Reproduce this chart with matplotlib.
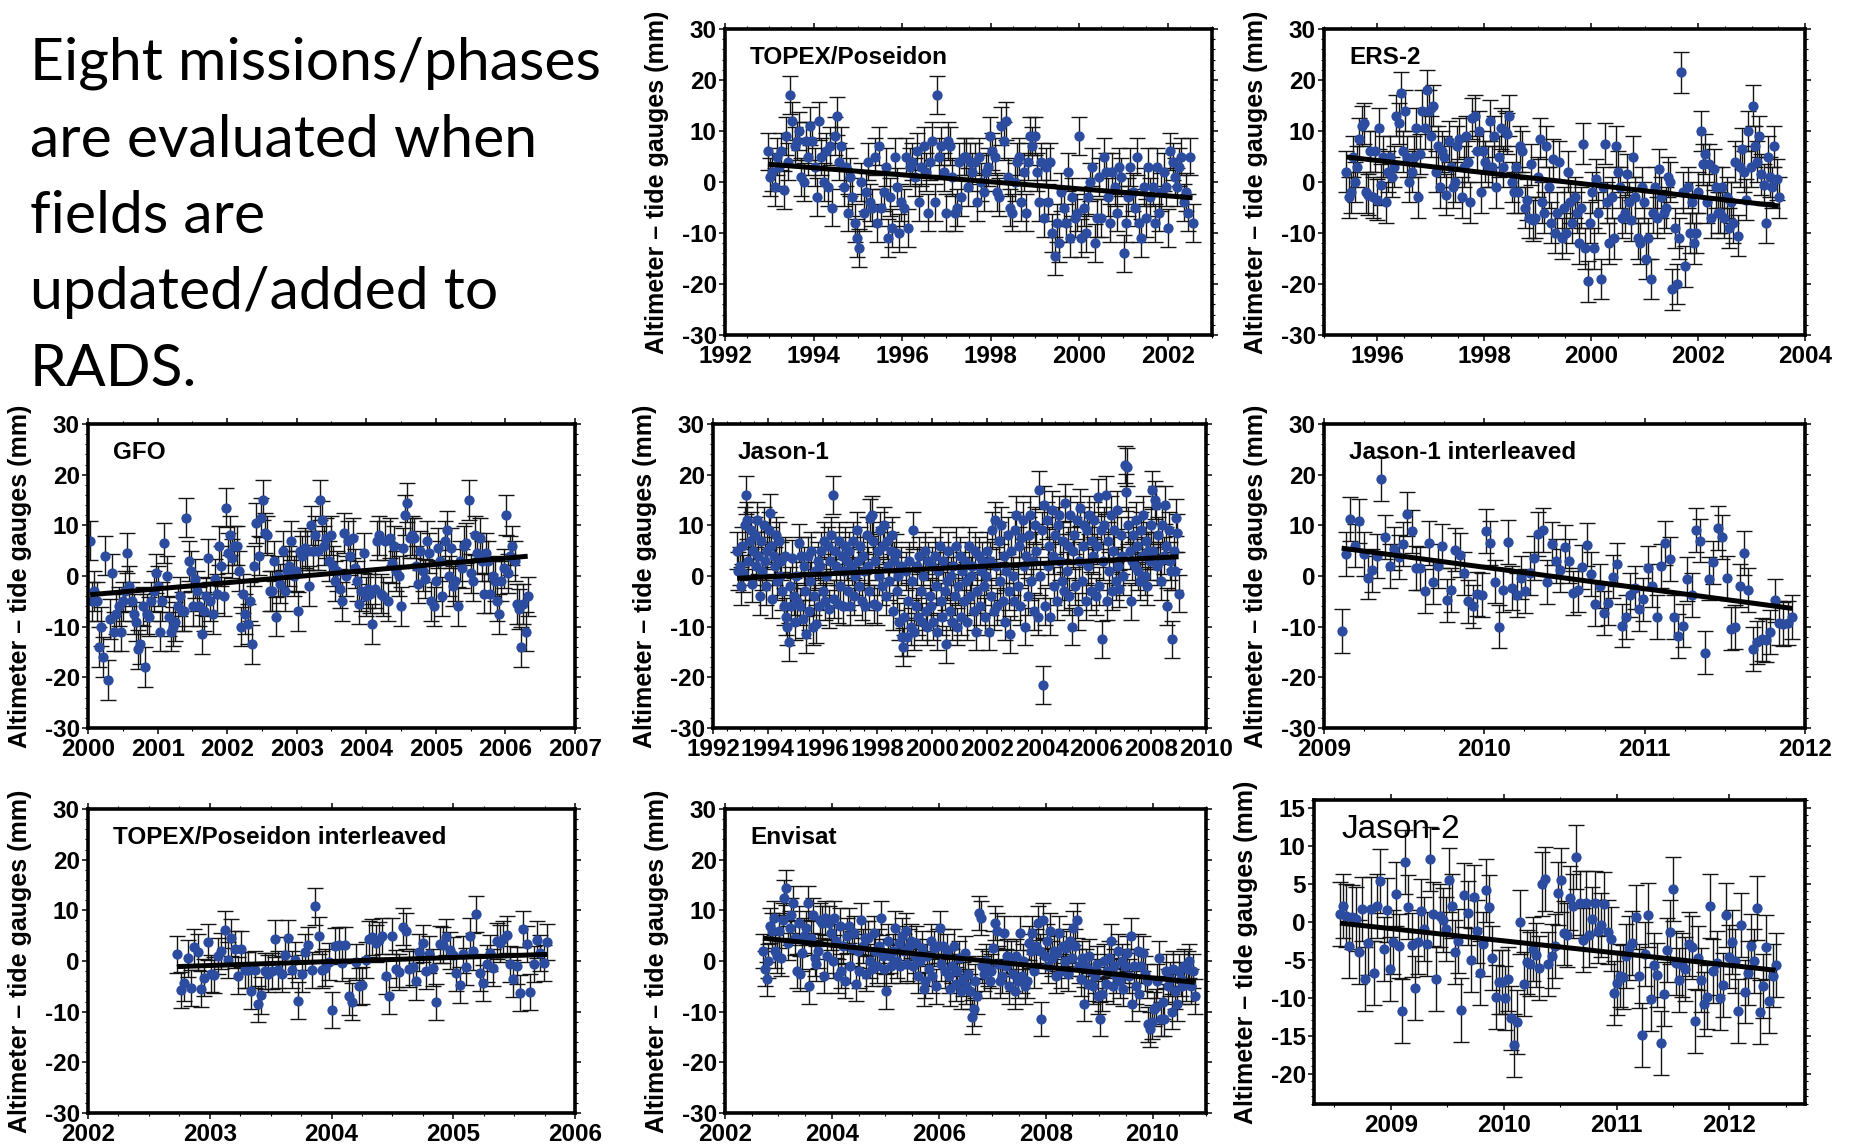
import numpy as np
import matplotlib
matplotlib.use("Agg")
import matplotlib.pyplot as plt
from matplotlib.ticker import MultipleLocator, FixedLocator

plt.rcParams['axes.unicode_minus'] = False
plt.rcParams['font.family'] = ['Liberation Sans', 'DejaVu Sans']
plt.rcParams['font.weight'] = 'bold'

# ---------------- data ----------------
topex_span = [1992.97, 2002.56]
topex_y = [6, 1, 2, -1, 5, 3, 6, -1.5, 9, 4,
           17, 12, 7, 8, 10, 1, 0, 8, 5, 11,
           8, 3, -3, 12, 5, 0, 6, -1, 7, -5,
           9, 13, 4, 7, -1, 3, -6, 1, -3, -8,
           -11, -13, 0, -6, -2, 4, -4, -5, 5, -8,
           7, -5, -2, 3, -11, -3, -9, 5, -1, -10,
           -4, -5, 5, -9, 3, 4, 1, 6, -4, 3,
           7, 2, -6, 4, 8, -4, 17, 5, 7, 2,
           -6, 8, 7, 1, -6, -5, 4, -3, 5, 5,
           -1, 4, 2, 4, -4, 5, 0, -2, 2, 3,
           9, 6, 5, -2, -3, 11, 8, 12, 1, -5,
           -6, 0, 4, 5, -4, 2, -6, 4, 9, 7,
           9, 2, -4, 4, -7, 3, -4, 4, -10, -14.5,
           -8, -12, -2, -5, -8, 2, -11, -3, -7, -6,
           9, -11, -5, -10, -3, 0, 3, -12, -7, 1,
           -7, 5, 2, -3, -8, 2, -1, -6, 3, 1,
           -14, -8, -3, 3, -2, -5, 5, -8, -11, -1,
           -7, 3, -3, -1, -8, 3, -6, -2, 2, -1,
           -9, 6, 4, 1, -1, 3, 5, -4, -2, -6, 5, -8]
topex_err = 3.7
topex_trend = [3.5, -3.1]

ers2_span = [1995.42, 2003.51]
ers2_y = [2, -3, -2, 5, 0, 3, 8.5, 11, 11.5, -2, -2.5, 6, -3, 6, -3.5, 10.5, -0.5, 5, -4, 2,
          5, 1, 3, 13, 11.5, 17.5, 6, 14, 5, 0, 2, 5, 10.5, -3, 5.5, 14, 10.5, 18, 14, 9,
          15, 2, 7, -1, 6, 5, -2.5, 8, 3, -1, 0, 7, 8.5, -3, 3, 9, 4, -4, 12.5, 13,
          6, 10, -2, 6, 4, 3, 12, 3, 9, -1, 5, 10.5, 3, 10, 9.5, 13, 0, -2, 3, -2,
          7, 6, -5, -3.5, -7, 3.5, -7.5, -7, 1, 8.5, -4, -6, 7, -1, -8, 4.5, -10, -6, 4, -11,
          -5, -10, 2, -4, -8, -3, -6, -12, -5, 7.5, -13, -19.5, -8, -2, -13, 0.5, -6, -19, -1, 7.5,
          -4, -12, -3, -11, 7, 2, -1, -7, -6, 1.5, -4, -7.5, 5, -3, -11, -12, -1, -4, -15, -11,
          -19, -6, -1, -7, 2.5, -3, -6, -5, 1, 0, -21, -9, -20, -11, 21.5, -2, -16.5, -1, -10, -4,
          -12, -10, -2, 10, 3.5, 5.5, -4, 3.5, -7, 2.5, -1, -6, -6, -1, -7, -3, -9, -4, -8, 4,
          -10.5, 3, 6.5, 2, -3.5, 10, 3, 15, 7, 4, 9, 1.5, -0.5, -8, 5, 1, -1, 7, 0.5, -3]
ers2_err = 4.0
ers2_trend = [4.9, -4.7]

gfo_span = [2000.03, 2006.32]
gfo_y = [7, -5, -3, -5, -14, -10, -16, 4, -20.5, -8.5, 0.5, -11, -7.5, -6, -11, -5, -3, 4.5, -2, -5,
         -7.5, -9, -14.5, -13.5, -6, -18, -7.5, -8, -5, -3, 0.5, -2, -11, -5, 6.5, 0, -8, -11,
         -10, -9, -6, -4, -7, -7, 11.5, 3, 1, -6, -0.5, -3, -6, -11.5, -7, -4, 3.5, -5,
         -7.5, -0.5, -3.5, 6, 2, -4, 13.5, 4.5, 8, 3.5, 6, 6, 1, -10, -3.5, -7.5, -9.5,
         -5, -13.5, 2, 10.5, 4, 11.5, 15, 8.5, 8, -3, -3, 3, -8, 0, -1.5,
         5, -3, 1, 2, 7, 0, 1, -7, 5, 4, 5.5, 5, -2, 10, 5, 8,
         5, 15, 11, 6, 7.5, 3, 8, 2, -1, 1, -2.5, -5, 8.5,
         0, 7, 4, 7.5, 1.5, -1, -5.5, -3, 4.5, -4, -2.5, -3.5, -9.5, -2.5,
         7, 8, -3.5, -4, 7, -5, 7.5, 2.5, 6, 1, 0, -6, 5.5, 12,
         14.5, 7.5, 8, 7.5, 2, -1.5, 5, 1, -0.5, 7, 4.5, -5, -6, -1, 5.5, 3,
         -4, 7, 9, 0, 5.5, -2, -1, -6, 3, 1.5, 6, 6.5, 15, 0.5, -1,
         8, 4.5, 7.5, 3, -3.5, 4.5, 3, -3.5, 0, -1, -5, -7.5, -1, 1.5, 12,
         0.5, 4, 6, 3, -5.5, -6.5, -14, -5.5, -11, -4]
gfo_err = 3.9
gfo_trend = [-3.7, 3.9]

jason1_span = [1992.88, 2009.0]
jason1_y = [5, 1, 2, -2, 6, 0.5, 10, 16, 11, 3, 7, 9, -1.5, 5, 8, 2, 11, 4, -4, 7, 1, 10,
            3, -2, 5, 9, 12.5, 6, -4.5, 4, 2, 8, -1, 7, 0, 3, -3, -6, 4, -8, -10, -13, -2, -6,
            3.5, -4, -9, 0, -5, 6.5, -6, 4, -8.5, 2, -3, -11.5, 4, -7, -1, 5, -10, -4, 1, -9.5, 3, -6,
            2, 5, -3, 7, -5, 0, 6, -6.5, 3, 8, 16, -4.5, 5, 2, -5.5, 7, -2, 4, -6, 1, 6, 3,
            -3, 5, -6, 2, 7, -4, 0, 9, 3, -2, 6, -5, 4, 1, -6, 8, 2, -3, 11.5, 12, 7, -5.5,
            3, -6, 5, 0, 9, -2, 6, 10, -4, 7, 2, -1, 5, 8, -7, 3, 4.5, -3, 0, -9, 2, -12,
            -14, -8, 1, -12, -5, 3, -10, -1, 9, -11, -6, 2, -8, 4, -3, -9, 0, 5, -7, -10, 3, -4,
            -6, 2, -9, 4, -2, -11, 1, 6, -5, -8, 3, -3, -13.5, -1, 5, -7, 0, -9, 2, -4, 6, -10,
            -2, 4, -8, 1, -5, 3, -1, -9, 6, -4, 0, 2, -7, 5, -11, -3, 4, -6, 1, 3, -2, -8,
            0, 5, -11, 3, -4, 9, -7, 11, 2, -6, 7, -1, 10, -5, 4, -9, 1, 8, -3, -11.5, 5, 0,
            -5, 9, 12, -2, 6, -6, 7.5, 11, 2, -10, 4, -4, 8, 12, -1, 3, -7, 10, 5, -8, 17, 0,
            9, -21.5, 14, -6, 11, 2, 6, -8, 13, 4, -2, 8, -5, 10, 12, 3, -1, 7, -3, 14.5, 1, 6,
            -4, 12, -10, 5, 8, -2, 11, -7, 3, 13.5, -1, 6, 10, -5, 9, 2, 12, -3, 7, 4, 11, -4,
            6, 15.5, -2, 9, -12.5, 3, 10, 16, -5, 7, 1, 12, -3, 5, 9, -1, 13, 2, -2.5, 8, 4, 0,
            22, 16.5, 21.5, 10, 5, -5, 3, 8, 2, 11, 6, 1, -1, 9, 4, 12, 0, 7, -2, 5, 3, 10,
            17, 5, 15, 14, 2, 8, 3, -1, 10, 4, 14, 6, -6, 9, 3, 1, -12.5, 5, 1, 11.5, 8.5, -3.5]
jason1_err = 3.7
jason1_trend = [-0.45, 3.8]

j1i_span = [2009.11, 2011.92]
j1i_y = [-10.8, 4.3, 11.2, 6, 10.8, 4.3, -0.3, 1.1, 3.9, 19.1, 7.7, 2, 5.4, 3.7, 6.3, 12.2, 8.8, 1.6,
         1.5, -3, 6.5, -1.2, 2, 5.9, -4.8, -2.8, 5.2, 4.2, 0.5, -5, -6, -3.5, -3.8, 8.9, 6.5, -1.1,
         -10, -2.8, 6.7, -2.4, -3.8, -0.3, -3, 0.5, 3.5, 8.3, 9.1, -1.2, 6.4, 3, 1.1, 5.8, 3, -3.3,
         -2.8, 1.8, 6.2, 0.4, -5.5, -2, -7.3, -5.4, -0.1, 2.3, -9.8, -8.1, -3.8, -2.3, -6.6, -4.6,
         1.6, -1.9, -8.1, 2, 6.5, 3.4, -8.1, -11.8, -9.8, -0.6, -3.7, 9.1, 7, -15.1, -0.5, 2.7,
         9.5, 7.7, -0.4, -10.4, -10.1, -1.9, 4.5, -2.8, -14.4, -13.1, -12.5, -12.7, -11.1, -4.8,
         -9.3, -9.5, -9.3, -8.1]
j1i_err = 4.3
j1i_trend = [5.5, -6.4]

tpi_span = [2002.735, 2005.77]
tpi_y = [1.3, -5.7, -4.3, 0.5, -5.3, 2.8, 1.8, -5.5, -3.3, 3.8, -2.5, -2.8, 1, 2, 6.2, 0.2, 4.6,
         2.3, -2.9, 2.4, -1.8, -1.8, -5.9, -1.7, -8.5, -6.8, -2, -2.5, -2, 4.4, -1.7, -2.6, 1.1,
         4.5, -1.7, 0.2, -7.8, -2.5, 1.8, 3.2, -1.8, 10.8, 5, -1.7, -1.3, -0.1, -9.7, 3, 3.2,
         -0.3, 3.2, -7, -8, -0.2, -5, -4.8, 0.2, 4.3, 4.7, 3.5, 4.1, 4.9, -3, -6.9, 4.9, -1.5,
         -2.2, 6.8, 5.9, -1.6, -1.2, -4, 1.7, 3.5, -2, 1.3, -1.3, -8.1, 3.3, 3.2, 4.7, 2.1, 1.2,
         -2.4, -4.7, 1.3, -1.1, 4.9, 1.9, 9.3, -2.3, -4.3, -0.5, 1.6, -1.3, 3.9, 3.5, 4.3, 5.2,
         -0.6, -3.5, -0.9, -6.3, 6.3, 3.4, -6.1, -0.6, 4.2, 1.6, -0.4, 3.8]
tpi_err = 3.6
tpi_trend = [-1.1, 1.3]

envisat_span = [2002.71, 2010.79]
envisat_y = [2, -1.5, -3.5, 0, 7, 6, 8.5, 2, 1,
             6, 0.5, 8, 12.5, 14.5, 3.5, 6.5, 9, 11.5, 4.5, -2, 7.5, -2.5, 1.5, 5,
             6.5, 11.5, -5, 4.5, 9, 0.5, -0.5, 2, 8, 7.5, -3, 8.5, 1, 7.5, 5.5,
             0, 8.5, 4, -3, 7, -2, 3, -4, 5, 7, -1, 2.5, 5.5, -4.5, 2,
             -2, 8, 3, 4.5, -2.5, 4.5, 0, -1.5, 5.5, 2, -1, 3, 8.5, 1, -1.5,
             -6, 4, 1, -1, 2, 6.5, 0, 3.5, -1, 5, 2, 6, -0.5, 3, 4,
             -1, 1, 3.5, -3, 0, 2.5, -5.5, -4, 1, -1.5, 4, -3, 2.5, -5, 3,
             6.5, -0.5, 3, -2, 2, -3, -5.5, -1, 3, -4.5, -2, 0.5, -6, -3.5, 1.5,
             -5, -2.5, -6, -11, -9.5, -4, -7, 9.5, 8.5, -1, -2.5, 0, -1.5, -4, -2,
             2.5, 7.5, 6, -0.5, -4, -3, 5.5, -1, 1, -5, 0.5, -2.5, -6, 1, -4,
             5.5, -3, 0, -5, -4, 3.5, 2, 5.5, -2, 3, 7.5, 2, -11.5, 8, 1,
             4, -1, 6, 0.5, 2, -3, 1.5, 5.5, -2, 3, 0, 2.5, -2.5, 4, 0.5,
             6.5, 3, 8, -1, -3.5, 0.5, -8.5, -1, -4.5, 1, -2, -5, -3, -0.5, -7,
             -11.5, -6.5, 0, -4.5, -2, 0.5, 4, -5, -1, -3, 2, -4, 0, -5.5, -1,
             1.5, -3, 5, -8.5, -1, -5, 2, -6.5, -1, 1.5, -2.5, -4, -12.5, -13.5, -12,
             -9.5, -9, -4, 0.5, -11.5, -8, -11.5, -2, -5, -3.5, -10, -1.5, -6, -8.5, -2,
             -3.5, -5, -1, -4.5, -1.5, 0, -5, -2, -7]
envisat_err = 3.4
envisat_trend = [4.5, -4.2]

jason2_span = [2008.55, 2012.41]
jason2_y = [1, 2, 0.8, -3.2, 0.6, 0.3, -4, 1.7, -7.5, -2.8, 1.7, -6.8, 2, 5.3, -3.6, 1.5, -6.2,
            -2.7, 3.6, -3.2, -11.8, 7.8, 1.9, -3.1, -8.7, -2.7, 1.4, -1, -3, 8.2, 1, -7.5, 0.8,
            0.2, -1, 5.5, 2.1, -4, -2.5, -11.6, 3.5, 1.1, -5, 3.3, -1.3, -6.8, -2.9, 4.1, 1.9,
            -4.8, -9.9, -8, -7.9, -10, -7.5, -12.7, -16.3, -13.2, 0, -8.2, -5.3, -5.6, -3.6,
            -4.4, -6.1, 5, 5.6, -5.6, -4.5, -3.2, 3.7, 5.5, -1.5, -1.8, 3.1, 2, 8.5, 2.5, -2.4,
            2.5, -1.8, 0.4, 2.4, -1.3, -0.4, 2.3, -1.4, -2.3, -9.4, -8.1, -7.1, -7.3, -4.5, -3.5,
            -2.8, 0.6, -7.2, -14.9, -4.3, 0.9, -10.2, -5.7, -7, -16, -9.5, -3.7, -1.4, 4.3, -5.4,
            -7.7, -5.7, -6.2, -2.9, -3.4, -13.1, -4.8, -7.7, -10.8, -9.9, 2.1, -6.5, -5.5, -10,
            -8.3, 0.9, -4.6, -2.7, -5.2, -11.8, -0.5, -9.2, -6.8, -3.2, -5.2, 1.8, -11.9, -8.5,
            -3.3, -10.4, -7.1, -5.7]
jason2_err = 4.2
jason2_trend = [-0.2, -6.4]

titles = ["TOPEX/Poseidon", "ERS-2", "GFO", "Jason-1", "Jason-1 interleaved",
          "TOPEX/Poseidon interleaved", "Envisat", "Jason-2"]
intro_lines = ["Eight missions/phases", "are evaluated when", "fields are",
               "updated/added to", "RADS."]
ylabel_text = "Altimeter \u2013 tide gauges (mm)"

# ---------------- layout ----------------
W, H = 1850, 1147
fig = plt.figure(figsize=(W / 100, H / 100), dpi=100)
fig.patch.set_facecolor('white')

BLUE = '#2c4ca0'

def make_axes(x0, x1, y0, y1):
    return fig.add_axes([x0 / W, 1 - y1 / H, (x1 - x0) / W, (y1 - y0) / H])

def draw_panel(box, xlim, xmaj, xmin, ylim, ymaj, ymin, span, y, err, trend, title,
               title_kw, xticks=None):
    ax = make_axes(*box)
    y = np.asarray(y, float)
    t = np.linspace(span[0], span[1], len(y))
    ax.errorbar(t, y, yerr=err, fmt='none', ecolor='#141414', elinewidth=1.0,
                capsize=5.5, capthick=1.0, zorder=2)
    ax.plot(t, y, 'o', ms=7.4, color=BLUE, mew=0, zorder=3)
    ax.plot(span, trend, '-', color='black', lw=3.6, zorder=4, solid_capstyle='butt')
    ax.set_xlim(*xlim)
    ax.set_ylim(*ylim)
    if xticks is None:
        ax.xaxis.set_major_locator(MultipleLocator(xmaj))
    else:
        ax.xaxis.set_major_locator(FixedLocator(xticks))
    ax.xaxis.set_minor_locator(MultipleLocator(xmin))
    ax.yaxis.set_major_locator(MultipleLocator(ymaj))
    ax.yaxis.set_minor_locator(MultipleLocator(ymin))
    ax.xaxis.set_major_formatter(plt.FuncFormatter(lambda v, p: f"{v:.0f}"))
    ax.yaxis.set_major_formatter(plt.FuncFormatter(lambda v, p: f"{v:.0f}"))
    ax.tick_params(which='both', direction='out', top=True, right=True,
                   labeltop=False, labelright=False)
    ax.tick_params(which='major', length=4.5, width=1.1, labelsize=17.5)
    ax.tick_params(axis='y', which='major', pad=1.5)
    ax.tick_params(axis='x', which='major', pad=3)
    ax.tick_params(which='minor', length=2.3, width=0.8)
    for s in ax.spines.values():
        s.set_linewidth(2.6)
        s.set_zorder(6)
    wpx = box[1] - box[0]
    ax.set_ylabel(ylabel_text, fontweight='bold', fontsize=18)
    ax.yaxis.set_label_coords(-56 / wpx, 0.5)
    ax.text(title_kw.pop('dx') / wpx, 1 - title_kw.pop('dy') / (box[3] - box[2]), title,
            transform=ax.transAxes, ha='left', va='center', zorder=7, **title_kw)
    return ax

TB = dict(fontweight='bold', fontsize=17.5, dx=25, dy=28)

col1 = (88, 575)
col2 = (725, 1212)
col3 = (1324, 1805)
row1 = (29, 335)
row2 = (424, 728)
row3 = (809, 1113)

draw_panel((*col2, *row1), (1992, 2003), 2, 0.5, (-30, 30), 10, 2,
           topex_span, topex_y, topex_err, topex_trend, titles[0], dict(TB))
draw_panel((*col3, *row1), (1995, 2004), 2, 0.5, (-30, 30), 10, 2,
           ers2_span, ers2_y, ers2_err, ers2_trend, titles[1], dict(TB),
           xticks=[1996, 1998, 2000, 2002, 2004])
draw_panel((*col1, *row2), (2000, 2007), 1, 0.5, (-30, 30), 10, 2,
           gfo_span, gfo_y, gfo_err, gfo_trend, titles[2], dict(TB))
draw_panel((713, 1206, *row2), (1992, 2010), 2, 0.5, (-30, 30), 10, 2,
           jason1_span, jason1_y, jason1_err, jason1_trend, titles[3], dict(TB))
draw_panel((*col3, *row2), (2009, 2012), 1, 0.25, (-30, 30), 10, 2,
           j1i_span, j1i_y, j1i_err, j1i_trend, titles[4], dict(TB))
draw_panel((*col1, *row3), (2002, 2006), 1, 0.25, (-30, 30), 10, 2,
           tpi_span, tpi_y, tpi_err, tpi_trend, titles[5], dict(TB))
draw_panel((725, 1206, *row3), (2002, 2011), 2, 0.5, (-30, 30), 10, 2,
           envisat_span, envisat_y, envisat_err, envisat_trend, titles[6], dict(TB),
           xticks=[2002, 2004, 2006, 2008, 2010])
draw_panel((1314, 1805, 800, 1104), (2008.32, 2012.67), 1, 0.5, (-24, 16), 5, 1,
           jason2_span, jason2_y, jason2_err, jason2_trend, titles[7],
           dict(fontweight='normal', fontsize=24, dx=27, dy=29),
           xticks=[2009, 2010, 2011, 2012])

# ---------------- intro text ----------------
baselines = [79, 157, 233, 309, 386]
txt_objs = []
for line, b in zip(intro_lines, baselines):
    txt_objs.append(fig.text(30 / W, 1 - b / H, line, ha='left', va='baseline',
                             fontfamily='Lato', fontweight='normal', fontsize=40,
                             color='black'))
fig.canvas.draw()
r = fig.canvas.get_renderer()
w0 = txt_objs[0].get_window_extent(r).width
scale = 570.0 / w0
for t in txt_objs:
    t.set_fontsize(40 * scale)

fig.savefig('out.png', dpi=100, facecolor='white')
